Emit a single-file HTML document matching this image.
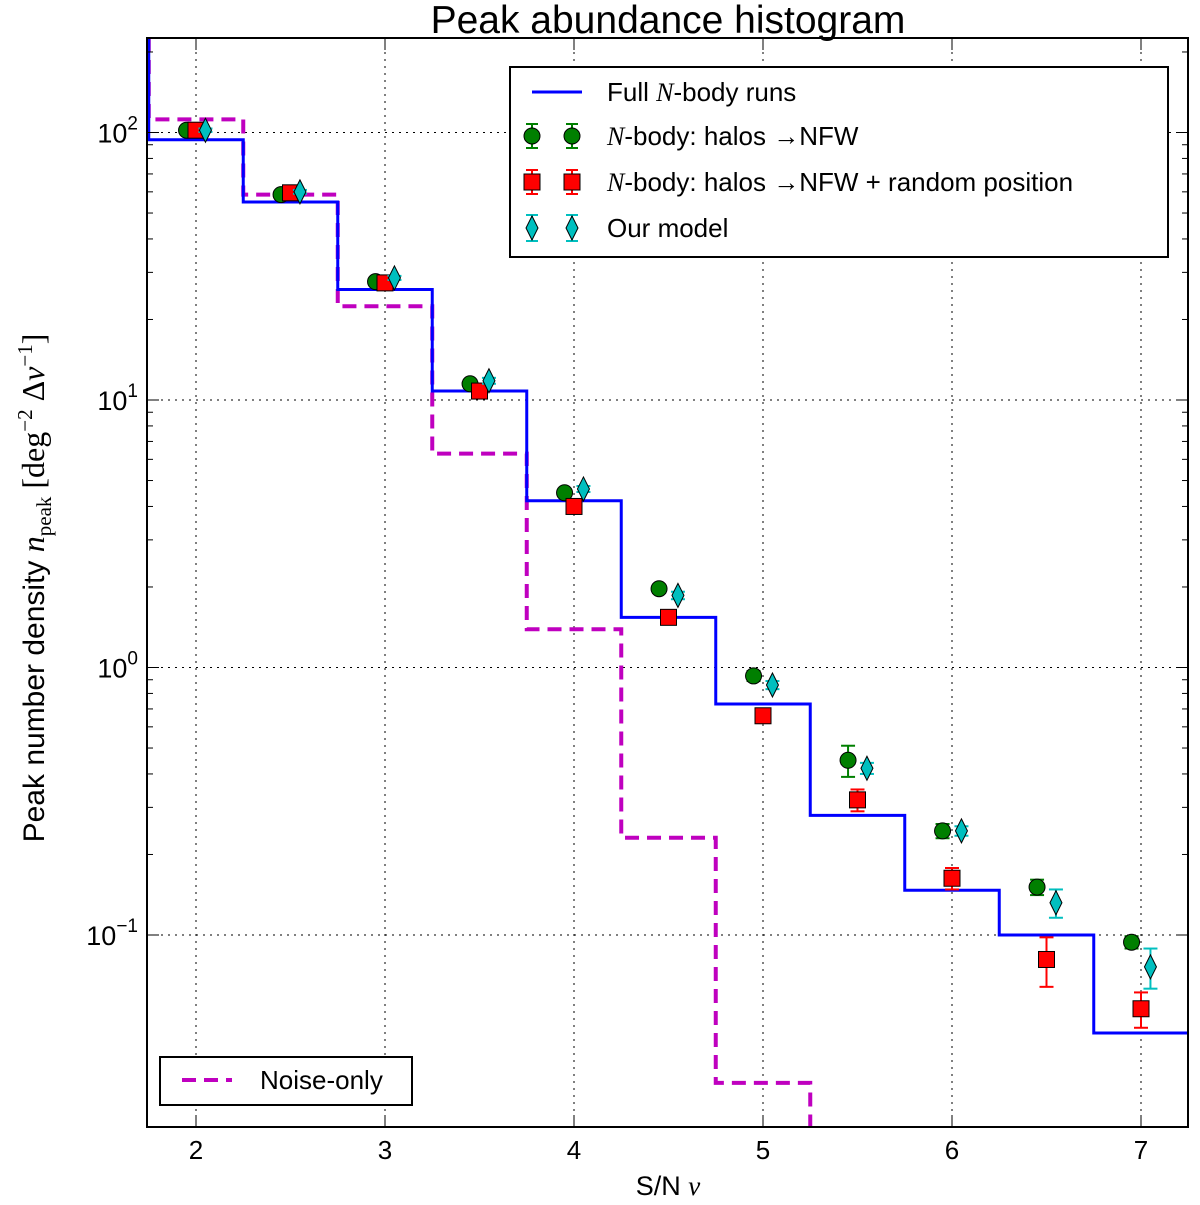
<!DOCTYPE html>
<html><head><meta charset="utf-8"><style>body{margin:0;background:#fff}svg{display:block;font-family:"Liberation Sans",sans-serif}</style></head>
<body>
<svg id="chart" width="1200" height="1205" viewBox="0 0 1200 1205" xmlns="http://www.w3.org/2000/svg">
<text x="668" y="33" font-size="39" text-anchor="middle">Peak abundance histogram</text>
<g id="grid"></g>
<g id="marks"></g>
<rect x="147" y="38" width="1041" height="1089" fill="none" stroke="#000" stroke-width="2"/>
<g id="ticks"></g>
<text x="668" y="1195" font-size="27" text-anchor="middle">S/N <tspan font-family="Liberation Serif" font-style="italic">ν</tspan></text>
<text transform="translate(44,588) rotate(-90)" font-size="30" text-anchor="middle">Peak number density <tspan font-family="Liberation Serif" font-style="italic" font-size="32">n</tspan><tspan font-family="Liberation Serif" font-size="21" dy="7">peak</tspan><tspan dy="-7" font-family="Liberation Serif" font-size="32"> [deg</tspan><tspan font-family="Liberation Serif" font-size="21" dy="-12">−2</tspan><tspan font-family="Liberation Serif" font-size="32" dy="12"> Δ</tspan><tspan font-family="Liberation Serif" font-style="italic" font-size="32">ν</tspan><tspan font-family="Liberation Serif" font-size="21" dy="-12">−1</tspan><tspan font-family="Liberation Serif" font-size="32" dy="12">]</tspan></text>
<g>
<rect x="510" y="67" width="658" height="190" fill="#fff" stroke="#000" stroke-width="2"/>
<g><line x1="532" y1="92" x2="582" y2="92" stroke="#0000ff" stroke-width="3"/><text x="607" y="101" font-size="26">Full <tspan font-family="Liberation Serif" font-style="italic">N</tspan>-body runs</text></g>
<g stroke="#007f00" stroke-width="2"><path d="M532,124V148M526,124H538M526,148H538M572,124V148M566,124H578M566,148H578"/><circle cx="532" cy="136" r="8" fill="#007f00" stroke="#000" stroke-width="1"/><circle cx="572" cy="136" r="8" fill="#007f00" stroke="#000" stroke-width="1"/><text x="607" y="145" font-size="26" stroke="none"><tspan font-family="Liberation Serif" font-style="italic">N</tspan>-body: halos →NFW</text></g>
<g stroke="#ff0000" stroke-width="2"><path d="M532,170V194M526,170H538M526,194H538M572,170V194M566,170H578M566,194H578"/><rect x="524" y="174" width="16" height="16" fill="#ff0000" stroke="#000" stroke-width="1"/><rect x="564" y="174" width="16" height="16" fill="#ff0000" stroke="#000" stroke-width="1"/><text x="607" y="191" font-size="26" stroke="none"><tspan font-family="Liberation Serif" font-style="italic">N</tspan>-body: halos →NFW + random position</text></g>
<g stroke="#00bfbf" stroke-width="2"><path d="M532,215V241M526,215H538M526,241H538M572,215V241M566,215H578M566,241H578"/><path d="M532,216 l6,12 l-6,12 l-6,-12z M572,216 l6,12 l-6,12 l-6,-12z" fill="#00bfbf" stroke="#000" stroke-width="1"/><text x="607" y="237" font-size="26" stroke="none">Our model</text></g>
</g>
<g>
<rect x="160" y="1057" width="252" height="48" fill="#fff" stroke="#000" stroke-width="2"/>
<line x1="182" y1="1080" x2="232" y2="1080" stroke="#bf00bf" stroke-width="4" stroke-dasharray="14,8"/>
<text x="260" y="1089" font-size="26">Noise-only</text>
</g>
</svg>
<script>
const binCenters=[2,2.5,3,3.5,4,4.5,5,5.5,6,6.5,7];
const fullNbody=[94,55,25.9,10.8,4.2,1.54,0.73,0.28,0.147,0.1,0.043];
const noiseOnly=[112,58.6,22.4,6.3,1.39,0.231,0.028,0,0,0,0];
const greenVals=[102,58.6,27.7,11.5,4.5,1.97,0.93,0.45,0.245,0.151,0.094];
const greenErr=[2,1.5,0.8,0.4,0.15,0.07,0.04,0.06,0.015,0.01,0.005];
const redVals=[102,59.5,27.4,10.8,4.0,1.54,0.66,0.32,0.163,0.081,0.053];
const redErr=[3,2,1,0.5,0.2,0.08,0.04,0.03,0.015,0.017,0.008];
const cyanVals=[102,60,28.6,11.8,4.65,1.86,0.86,0.42,0.245,0.132,0.076];
const cyanErr=[1.5,1,0.5,0.3,0.12,0.06,0.03,0.02,0.01,0.016,0.013];
const xTicks=[2,3,4,5,6,7];
const yTickExp=[-1,0,1,2];
const NS="http://www.w3.org/2000/svg";
const X=v=>196+(v-2)*189;
const Y=v=>400-(Math.log10(v)-1)*267.5;
const clampY=y=>Math.min(1127,Math.max(38,y));
function mk(tag,attrs,parent){const e=document.createElementNS(NS,tag);for(const k in attrs)e.setAttribute(k,attrs[k]);parent.appendChild(e);return e;}
const grid=document.getElementById('grid'),marks=document.getElementById('marks'),ticks=document.getElementById('ticks');
xTicks.forEach(t=>{
 const l=mk('line',{x1:X(t),x2:X(t),y1:38,y2:1127,stroke:'#000','stroke-dasharray':'2,5'},grid);
 
 
 mk('line',{x1:X(t),x2:X(t),y1:1127,y2:1115,stroke:'#000'},ticks);
 mk('line',{x1:X(t),x2:X(t),y1:38,y2:50,stroke:'#000'},ticks);
 const tx=mk('text',{x:X(t),y:1159,'font-size':26,'text-anchor':'middle'},ticks);tx.textContent=t;
 
 
});
yTickExp.forEach(e=>{
 const y=Y(Math.pow(10,e));
 const l=mk('line',{x1:147,x2:1188,y1:y,y2:y,stroke:'#000','stroke-dasharray':'2,5'},grid);
 
 
 mk('line',{x1:147,x2:159,y1:y,y2:y,stroke:'#000'},ticks);
 mk('line',{x1:1176,x2:1188,y1:y,y2:y,stroke:'#000'},ticks);
 const tx=mk('text',{x:138,y:y+10,'font-size':27,'text-anchor':'end'},ticks);
 
 
 const a=mk('tspan',{},tx);a.textContent='10';
 const b=mk('tspan',{dy:-13,'font-size':19},tx);b.textContent=String(e).replace('-','−');
 for(let m=2;m<10;m++){const v=m*Math.pow(10,e);const yy=Y(v);if(yy<38)continue;
  mk('line',{x1:147,x2:153,y1:yy,y2:yy,stroke:'#000'},ticks);mk('line',{x1:1182,x2:1188,y1:yy,y2:yy,stroke:'#000'},ticks);}
});
function stepPath(vals){let d='M'+X(binCenters[0]-0.25)+',38';
 for(let i=0;i<vals.length;i++){const v=vals[i];
  if(!(v>0)){d+=' L'+X(binCenters[i]-0.25)+',1127';break;}
  const y=clampY(Y(v));d+=' L'+X(binCenters[i]-0.25)+','+y+' L'+X(binCenters[i]+0.25)+','+y;}
 return d;}
const noise=mk('path',{d:stepPath(noiseOnly),fill:'none',stroke:'#bf00bf','stroke-width':4,'stroke-dasharray':'14,8'},marks);


const full=mk('path',{d:stepPath(fullNbody),fill:'none',stroke:'#0000ff','stroke-width':3},marks);


function series(vals,errs,dx,color,ecolor,shape,name){
 vals.forEach((v,i)=>{const cx=X(binCenters[i]+dx),cy=Y(v);
  const g=mk('g',{},marks);
  
  
  const y1=Y(v+errs[i]),y2=Y(Math.max(v-errs[i],1e-4));
  mk('line',{x1:cx,x2:cx,y1:y1,y2:y2,stroke:ecolor,'stroke-width':2},g);
  mk('line',{x1:cx-7,x2:cx+7,y1:y1,y2:y1,stroke:ecolor,'stroke-width':2},g);
  mk('line',{x1:cx-7,x2:cx+7,y1:y2,y2:y2,stroke:ecolor,'stroke-width':2},g);
  if(shape==='c')mk('circle',{cx:cx,cy:cy,r:8,fill:color,stroke:'#000'},g);
  else if(shape==='s')mk('rect',{x:cx-8,y:cy-8,width:16,height:16,fill:color,stroke:'#000'},g);
  else mk('path',{d:`M${cx},${cy-12} l6,12 l-6,12 l-6,-12z`,fill:color,stroke:'#000'},g);
 });}
series(greenVals,greenErr,-0.05,'#007f00','#007f00','c','halos-nfw');
series(redVals,redErr,0,'#ff0000','#ff0000','s','halos-nfw-random');
series(cyanVals,cyanErr,0.05,'#00bfbf','#00bfbf','d','our-model');
</script>
</body></html>
